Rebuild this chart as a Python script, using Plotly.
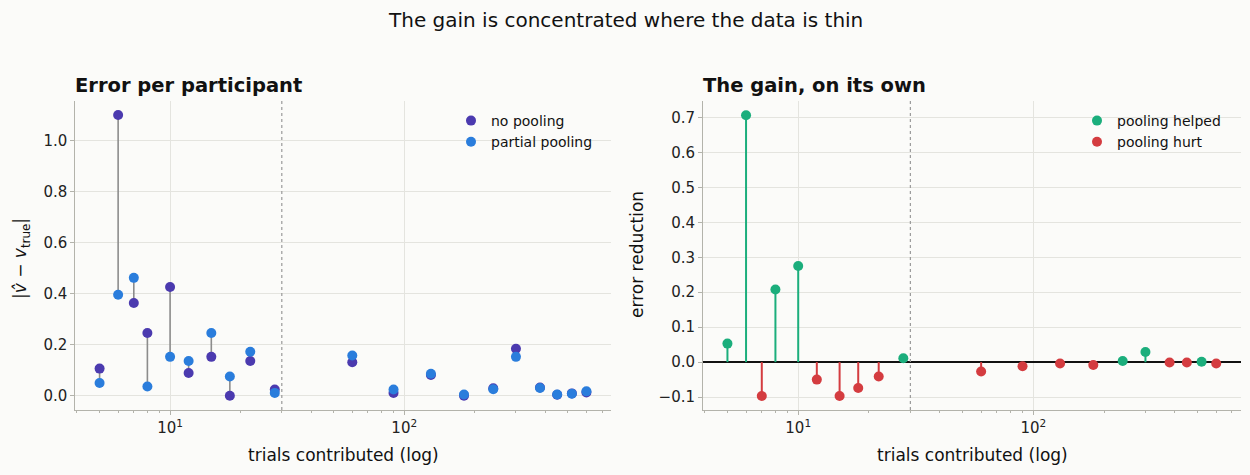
import plotly.graph_objects as go

# trials each participant contributed (x, log scale)
trials = [5, 6, 7, 8, 10, 12, 15, 18, 22, 28, 60, 90, 130, 180, 240, 300, 380, 450, 520, 600]

# |v_hat - v_true| for the two estimators
err_no_pool = [0.107, 1.099, 0.364, 0.246, 0.426, 0.090, 0.153, 0.001, 0.137, 0.025,
               0.132, 0.012, 0.082, 0.001, 0.030, 0.185, 0.033, 0.005, 0.010, 0.014]
err_partial = [0.051, 0.396, 0.462, 0.037, 0.153, 0.137, 0.246, 0.076, 0.173, 0.012,
               0.158, 0.025, 0.087, 0.006, 0.026, 0.153, 0.031, 0.006, 0.009, 0.018]

# error reduction (no pooling minus partial pooling)
gain = [0.053, 0.706, -0.097, 0.208, 0.275, -0.050, -0.097, -0.074, -0.041, 0.011,
        -0.027, -0.012, -0.004, -0.008, 0.003, 0.029, -0.001, -0.001, 0.001, -0.004]

threshold = 30

PURPLE = "#4b3aaf"
BLUE = "#2a7ddc"
GREEN = "#1bae7c"
RED = "#d43c40"
BG = "#fbfbf9"
SPINE = "#b3b3ab"
GRID = "#e4e4df"
FONT = "DejaVu Sans"

fig = go.Figure()

#%% left panel: dumbbells
sx, sy = [], []
for t, a, b in zip(trials, err_no_pool, err_partial):
    sx += [t, t, None]
    sy += [a, b, None]
fig.add_trace(go.Scatter(x=sx, y=sy, mode="lines", line=dict(color="#8c8c8c", width=1.6),
                         showlegend=False, hoverinfo="skip", xaxis="x", yaxis="y"))
fig.add_trace(go.Scatter(x=trials, y=err_no_pool, mode="markers", name="no pooling",
                         marker=dict(color=PURPLE, size=10), xaxis="x", yaxis="y", legend="legend"))
fig.add_trace(go.Scatter(x=trials, y=err_partial, mode="markers", name="partial pooling",
                         marker=dict(color=BLUE, size=10), xaxis="x", yaxis="y", legend="legend"))

#%% right panel: stems
helped = [(t, g) for t, g in zip(trials, gain) if g > 0]
hurt = [(t, g) for t, g in zip(trials, gain) if g <= 0]
for pts, col, name in [(helped, GREEN, "pooling helped"), (hurt, RED, "pooling hurt")]:
    lx, ly = [], []
    for t, g in pts:
        lx += [t, t, None]
        ly += [0, g, None]
    fig.add_trace(go.Scatter(x=lx, y=ly, mode="lines", line=dict(color=col, width=2),
                             showlegend=False, hoverinfo="skip", xaxis="x2", yaxis="y2"))
    fig.add_trace(go.Scatter(x=[p[0] for p in pts], y=[p[1] for p in pts], mode="markers", name=name,
                             marker=dict(color=col, size=10), xaxis="x2", yaxis="y2", legend="legend2"))

# dotted threshold lines, as traces spanning each panel's y range
for xa, ya, yr in [("x", "y", [-0.055, 1.154]), ("x2", "y2", [-0.137, 0.747])]:
    fig.add_trace(go.Scatter(x=[threshold, threshold], y=yr, mode="lines",
                             line=dict(color="#9a9a9a", width=1.2, dash="dot"),
                             showlegend=False, hoverinfo="skip", xaxis=xa, yaxis=ya))

minor_vals = [4, 5, 6, 7, 8, 9, 20, 30, 40, 50, 60, 70, 80, 90, 200, 300, 400, 500, 600, 700]
xcommon = dict(type="log", range=[0.595, 2.882], tickvals=[10, 100],
               ticktext=["10<sup>1</sup>", "10<sup>2</sup>"], ticks="outside", ticklen=4,
               tickcolor=SPINE, showline=True, linecolor=SPINE, linewidth=1, showgrid=True,
               gridcolor=GRID, gridwidth=1, zeroline=False, automargin=False,
               minor=dict(tickvals=minor_vals, ticks="outside", ticklen=2, tickcolor=SPINE, showgrid=False),
               tickfont=dict(size=15, color="#222"))
ycommon = dict(ticks="outside", ticklen=4, tickcolor=SPINE, showline=True, linecolor=SPINE,
               linewidth=1, showgrid=True, gridcolor=GRID, gridwidth=1, tickformat=".1f",
               automargin=False, tickfont=dict(size=15, color="#222"), domain=[0.1368, 0.7874])

fig.update_layout(
    width=1250, height=475,
    paper_bgcolor=BG, plot_bgcolor=BG,
    font=dict(family=FONT, color="#111"),
    margin=dict(l=0, r=0, t=0, b=0, autoexpand=False),
    xaxis=dict(domain=[0.0602, 0.4886], anchor="y", **xcommon),
    yaxis=dict(anchor="x", range=[-0.055, 1.154], tickvals=[0, 0.2, 0.4, 0.6, 0.8, 1.0],
               zeroline=False, **ycommon),
    xaxis2=dict(domain=[0.5624, 0.9925], anchor="y2", **xcommon),
    yaxis2=dict(anchor="x2", range=[-0.137, 0.747], dtick=0.1, tick0=0,
                zeroline=True, zerolinecolor="#111", zerolinewidth=2, **ycommon),
    legend=dict(x=451 / 1250, y=1 - 105 / 475, xanchor="left", yanchor="top",
                bgcolor="rgba(0,0,0,0)", font=dict(size=14)),
    legend2=dict(x=1077 / 1250, y=1 - 105 / 475, xanchor="left", yanchor="top",
                 bgcolor="rgba(0,0,0,0)", font=dict(size=14)),
    showlegend=True,
)

ann = [
    dict(text="The gain is concentrated where the data is thin", x=0.5, y=1 - 20 / 475,
         xanchor="center", font=dict(size=20)),
    dict(text="<b>Error per participant</b>", x=73 / 1250, y=1 - 85 / 475, xanchor="left",
         font=dict(size=19.5)),
    dict(text="<b>The gain, on its own</b>", x=701 / 1250, y=1 - 85 / 475, xanchor="left",
         font=dict(size=19.5)),
    dict(text="trials contributed (log)", x=343 / 1250, y=1 - 455 / 475, xanchor="center",
         font=dict(size=17)),
    dict(text="trials contributed (log)", x=972 / 1250, y=1 - 455 / 475, xanchor="center",
         font=dict(size=17)),
    dict(text="|<i>v\u0302</i> \u2212 <i>v</i><sub>true</sub>|", x=21 / 1250, y=1 - 259 / 475,
         xanchor="center", textangle=-90, font=dict(size=17)),
    dict(text="error reduction", x=637 / 1250, y=1 - 255 / 475, xanchor="center",
         textangle=-90, font=dict(size=17)),
]
for a in ann:
    fig.add_annotation(xref="paper", yref="paper", yanchor="middle", showarrow=False, **a)

# drop the browser's default 8px page margin so the figure sits at the window corner
fig.write_html("out.html", config={"displayModeBar": False},
               post_script="document.body.style.margin='0';")
